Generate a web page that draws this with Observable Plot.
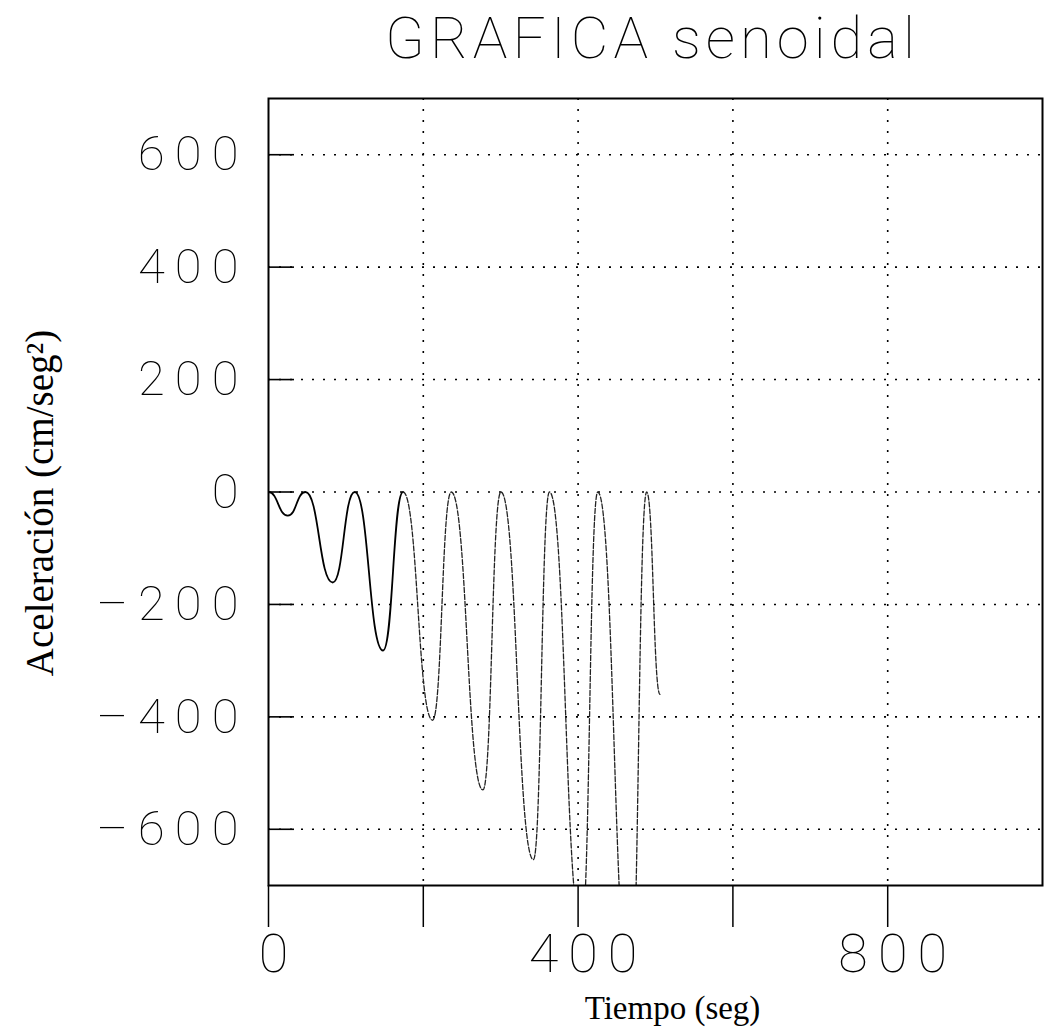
<!DOCTYPE html>
<html><head><meta charset="utf-8">
<script src="https://cdn.jsdelivr.net/npm/d3@7"></script>
<script src="https://cdn.jsdelivr.net/npm/@observablehq/plot@0.6"></script>
<style>
html,body{margin:0;padding:0;background:#fff;}
</style></head><body><div id="chart"></div>
<script>
// Data (peaks at 0, troughs growing)
const timeSeg = [0, 24.9, 47.7, 83, 111.4, 148, 173.8, 212, 236.1, 277, 300.3, 342.3, 363, 404.5, 425.4, 467.7, 488.6, 505.8];
const acel    = [0, -42, 0, -161, 0, -282, 0, -406, 0, -530, 0, -654, 0, -778, 0, -902, 0, -360];

const xGrid = [200, 400, 600, 800];
const xTicks = [0, 200, 400, 600, 800];
const xTickLabels = [0, 400, 800];
const yTicks = [-600, -400, -200, 0, 200, 400, 600];

const title = "GRAFICA senoidal";
const xLabel = "Tiempo (seg)";
const yLabel = "Aceleración (cm/seg²)";

const data = timeSeg.map((t, i) => ({t, a: acel[i]}));
const solidPart = data.slice(0, 7);
const fadedPart = data.slice(6);

const W = 1047, H = 1034, ML = 268, MR = 5, MT = 98, MB = 149;
const plotW = W - ML - MR;
const thinFont = 'Roboto, "DejaVu Sans", sans-serif';
const serif = '"Liberation Serif", "Times New Roman", serif';

const chart = Plot.plot({
  width: W, height: H,
  marginLeft: ML, marginRight: MR, marginTop: MT, marginBottom: MB,
  x: {domain: [0, 1000]},
  y: {domain: [-700, 700]},
  style: {background: "#fff", color: "#000"},
  marks: [
    Plot.ruleY(yTicks, {stroke: "#000", strokeWidth: 1.6, strokeDasharray: "2,9"}),
    Plot.ruleX(xGrid, {stroke: "#000", strokeWidth: 1.6, strokeDasharray: "2,9"}),
    Plot.tickY(yTicks, {y: d => d, insetRight: plotW - 26, stroke: "#000", strokeWidth: 1.6}),
    Plot.line(solidPart, {x: "t", y: "a", curve: "bump-x", stroke: "#000", strokeWidth: 1.8, clip: true}),
    Plot.line(fadedPart, {x: "t", y: "a", curve: "bump-x", stroke: "#222", strokeWidth: 1.3,
      strokeDasharray: "5,2", clip: true}),
    Plot.frame({stroke: "#000", strokeWidth: 2}),
    Plot.axisX({ticks: xTicks, tickSize: 42, tickPadding: 6,
      tickFormat: d => xTickLabels.includes(d) ? String(d) : "",
      fontSize: 54, fontFamily: thinFont, fontWeight: 100, label: null, strokeWidth: 1.5}),
    Plot.axisY({ticks: yTicks, tickSize: 0, tickPadding: 20,
      tickFormat: d => d < 0 ? "\u2013" + Math.abs(d) : String(d),
      fontSize: 49, fontFamily: thinFont, fontWeight: 100, label: null}),
    Plot.text([title], {frameAnchor: "top", text: d => d, dy: -59, dx: -5, fontSize: 58,
      fontFamily: thinFont, fontWeight: 100, lineAnchor: "middle"}),
    Plot.text([xLabel], {frameAnchor: "bottom", text: d => d, dx: 17, dy: 123, fontSize: 33,
      fontFamily: serif, lineAnchor: "middle"}),
    Plot.text([yLabel], {frameAnchor: "left", text: d => d, rotate: -90, dx: -228, dy: 11, fontSize: 39,
      fontFamily: serif, lineAnchor: "middle", textAnchor: "middle"})
  ]
});

document.getElementById("chart").appendChild(chart);
const sel = d3.select(chart);
sel.selectAll('[aria-label="y-axis tick label"] text').style("letter-spacing", "10px");
sel.selectAll('[aria-label="x-axis tick label"] text').style("letter-spacing", "10px").attr("dx", 10);
sel.selectAll('[aria-label="text"] text').filter(function() { return this.textContent === title; })
  .style("letter-spacing", "5px").attr("dx", 2);
</script>
</body></html>
